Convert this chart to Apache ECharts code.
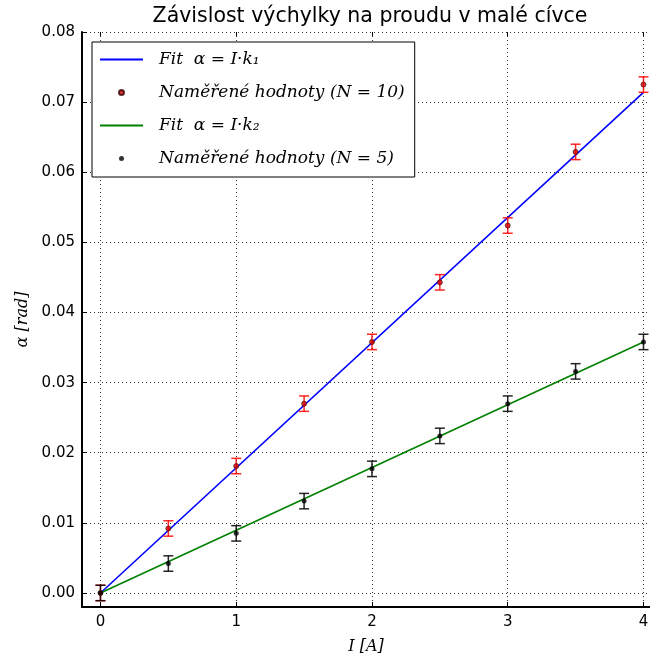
<!DOCTYPE html>
<html>
<head>
<meta charset="utf-8">
<title>Závislost výchylky na proudu v malé cívce</title>
<script src="https://cdn.jsdelivr.net/npm/echarts@6/dist/echarts.min.js"></script>
<style>
  html, body { margin: 0; padding: 0; background: #fff; }
  #chart { width: 650px; height: 657px; }
</style>
</head>
<body>
<div id="chart"></div>
<script>
// proud I [A]
var currents = [0, 0.5, 1, 1.5, 2, 2.5, 3, 3.5, 4];
// namerene hodnoty alfa [rad]
var alpha10 = [0.0000, 0.0092, 0.0181, 0.0270, 0.0358, 0.0443, 0.0524, 0.0629, 0.0725];
var alpha5 = [0.0000, 0.0042, 0.0085, 0.0131, 0.0177, 0.0224, 0.0270, 0.0316, 0.0358];
// nejistoty
var err10 = [0.0011, 0.0011, 0.0011, 0.0011, 0.0011, 0.0011, 0.0011, 0.0011, 0.0011];
var err5 = [0.0011, 0.0011, 0.0011, 0.0011, 0.0011, 0.0011, 0.0011, 0.0011, 0.0011];
// fit primkou
var fitX = [0, 4];
var fit1Y = [0, 0.0714];
var fit2Y = [0, 0.0358];
var yTicks = ['0.00', '0.01', '0.02', '0.03', '0.04', '0.05', '0.06', '0.07', '0.08'];
var xTicks = ['0', '1', '2', '3', '4'];

var myChart = echarts.init(document.getElementById('chart'));

function pairs(xs, ys) {
  return xs.map(function (x, i) { return [x, ys[i]]; });
}

function errData(ys, es) {
  return currents.map(function (x, i) { return [x, ys[i] - es[i], ys[i] + es[i]]; });
}

// chybove usecky s "cepickami"
function errorBars(color) {
  return function (params, api) {
    var top = api.coord([api.value(0), api.value(2)]);
    var bot = api.coord([api.value(0), api.value(1)]);
    var hw = 5;
    var st = { stroke: color, lineWidth: 1.5 };
    return {
      type: 'group',
      children: [
        { type: 'line', shape: { x1: top[0], y1: top[1], x2: bot[0], y2: bot[1] }, style: st },
        { type: 'line', shape: { x1: top[0] - hw, y1: top[1], x2: top[0] + hw, y2: top[1] }, style: st },
        { type: 'line', shape: { x1: bot[0] - hw, y1: bot[1], x2: bot[0] + hw, y2: bot[1] }, style: st }
      ]
    };
  };
}

var gridLine = { show: true, lineStyle: { color: '#333', width: 1, type: [1, 3] } };

var legendNames = {
  fit1: '{t|Fit  α = I·k₁}',
  pts10: '{t|Naměřené hodnoty (N = 10)}',
  fit2: '{t|Fit  α = I·k₂}',
  pts5: '{t|Naměřené hodnoty (N = 5)}'
};
var noDot = { color: 'rgba(0,0,0,0)', borderWidth: 0, opacity: 0 };

var option = {
  animation: false,
  title: {
    text: 'Závislost výchylky na proudu v malé cívce',
    left: 365,
    top: 1,
    textAlign: 'center',
    textStyle: { fontFamily: 'DejaVu Sans', fontSize: 20.5, fontWeight: 'normal', color: '#000' }
  },
  grid: { left: 82, right: 0, top: 32, bottom: 50, outerBoundsMode: 'none' },
  legend: {
    data: [
      { name: 'fit1', itemStyle: noDot },
      'pts10',
      { name: 'fit2', itemStyle: noDot },
      'pts5'
    ],
    orient: 'vertical',
    left: 92,
    top: 42,
    padding: [9, 10, 10, 7],
    itemWidth: 43,
    itemHeight: 5,
    itemGap: 16,
    selectedMode: false,
    backgroundColor: '#fff',
    borderColor: '#000',
    borderWidth: 1,
    borderRadius: 0,
    formatter: function (name) { return legendNames[name]; },
    textStyle: {
      padding: [0, 0, 0, 11],
      rich: {
        t: { fontFamily: 'DejaVu Serif', fontStyle: 'italic', fontSize: 17, color: '#000' }
      }
    }
  },
  xAxis: [{
    type: 'value',
    min: -0.136,
    max: 4.048,
    splitNumber: 4,
    name: 'I [A]',
    nameLocation: 'middle',
    nameGap: 32,
    nameTextStyle: { fontFamily: 'DejaVu Serif', fontStyle: 'italic', fontSize: 16, color: '#000' },
    axisLine: { onZero: false, lineStyle: { color: '#000', width: 2 } },
    axisTick: { inside: true, length: 5, lineStyle: { color: '#000', width: 1 } },
    axisLabel: {
      margin: 8,
      fontFamily: 'DejaVu Sans',
      fontSize: 15,
      color: '#000',
      formatter: function (v) {
        var i = xTicks.indexOf(String(v));
        return i < 0 ? '' : xTicks[i];
      }
    },
    splitLine: gridLine
  }, {
    type: 'value',
    position: 'top',
    min: -0.136,
    max: 4.048,
    splitNumber: 4,
    axisLine: { show: false, onZero: false },
    axisTick: { inside: true, length: 4, lineStyle: { color: '#000', width: 1 } },
    axisLabel: { show: false },
    splitLine: { show: false }
  }],
  yAxis: {
    type: 'value',
    min: -0.002,
    max: 0.08,
    splitNumber: 8,
    name: 'α [rad]',
    nameLocation: 'middle',
    nameGap: 51,
    nameRotate: 90,
    nameTextStyle: { fontFamily: 'DejaVu Serif', fontStyle: 'italic', fontSize: 16, color: '#000' },
    axisLine: { onZero: false, lineStyle: { color: '#000', width: 2 } },
    axisTick: { inside: true, length: 5, lineStyle: { color: '#000', width: 1 } },
    axisLabel: {
      margin: 7,
      fontFamily: 'DejaVu Sans',
      fontSize: 15,
      color: '#000',
      formatter: function (v) {
        var s = v.toFixed(2);
        return (yTicks.indexOf(s) >= 0 && Math.abs(v - parseFloat(s)) < 1e-9) ? s : '';
      }
    },
    splitLine: gridLine
  },
  series: [
    {
      name: 'fit1',
      type: 'line',
      data: pairs(fitX, fit1Y),
      symbol: 'none',
      lineStyle: { color: '#0000ff', width: 1.6 },
      itemStyle: { color: '#0000ff' },
      z: 2
    },
    {
      type: 'custom',
      renderItem: errorBars('rgba(255,0,0,0.85)'),
      data: errData(alpha10, err10),
      encode: { x: 0, y: [1, 2] },
      z: 3
    },
    {
      name: 'pts10',
      type: 'scatter',
      data: pairs(currents, alpha10),
      symbol: 'circle',
      symbolSize: 5,
      itemStyle: { color: '#dd0000', borderColor: '#300', borderWidth: 0.8 },
      z: 4
    },
    {
      name: 'fit2',
      type: 'line',
      data: pairs(fitX, fit2Y),
      symbol: 'none',
      lineStyle: { color: '#008000', width: 1.6 },
      itemStyle: { color: '#008000' },
      z: 2
    },
    {
      type: 'custom',
      renderItem: errorBars('rgba(0,0,0,0.85)'),
      data: errData(alpha5, err5),
      encode: { x: 0, y: [1, 2] },
      z: 3
    },
    {
      name: 'pts5',
      type: 'scatter',
      data: pairs(currents, alpha5),
      symbol: 'circle',
      symbolSize: 5,
      itemStyle: { color: '#000' },
      z: 4
    }
  ]
};

myChart.setOption(option);
</script>
</body>
</html>
